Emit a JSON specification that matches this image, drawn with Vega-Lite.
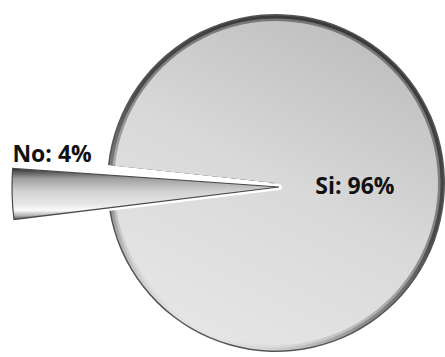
{
  "$schema": "https://vega.github.io/schema/vega-lite/v6.json",
  "width": 338,
  "height": 338,
  "autosize": {"type": "none"},
  "padding": {"left": 107, "top": 14, "right": 0, "bottom": 5},
  "background": "white",
  "config": {"view": {"stroke": null}},
  "data": {
    "values": [
      {"answer": "No", "share": 4, "label": "No: 4%"},
      {"answer": "Si", "share": 96, "label": "Si: 96%"}
    ]
  },
  "encoding": {
    "theta": {"field": "share", "type": "quantitative", "stack": true, "scale": {"range": [4.5605, 10.8437]}},
    "order": {"field": "answer", "sort": "ascending"}
  },
  "layer": [
    {
      "mark": {"type": "arc", "radius": 169, "padAngle": 0.016, "fill": "#555555"},
      "encoding": {"opacity": {"condition": {"test": "datum.answer === 'Si'", "value": 1}, "value": 0}}
    },
    {
      "mark": {
        "type": "arc", "radius": 167.5, "padAngle": 0.016,
        "fill": {
          "gradient": "linear", "x1": 0.75, "y1": 0.001, "x2": 0.25, "y2": 1,
          "stops": [
            {"offset": 0, "color": "#383838"},
            {"offset": 0.45, "color": "#4a4a4a"},
            {"offset": 0.75, "color": "#929292"},
            {"offset": 1, "color": "#fafafa"}
          ]
        }
      },
      "encoding": {"opacity": {"condition": {"test": "datum.answer === 'Si'", "value": 1}, "value": 0}}
    },
    {
      "mark": {
        "type": "arc", "radius": 164.5, "padAngle": 0.016,
        "fill": {
          "gradient": "linear", "x1": 0.75, "y1": 0.001, "x2": 0.25, "y2": 1,
          "stops": [
            {"offset": 0, "color": "#737373"},
            {"offset": 0.45, "color": "#858585"},
            {"offset": 0.75, "color": "#bababa"},
            {"offset": 1, "color": "#f2f2f2"}
          ]
        }
      },
      "encoding": {"opacity": {"condition": {"test": "datum.answer === 'Si'", "value": 1}, "value": 0}}
    },
    {
      "mark": {
        "type": "arc", "radius": 162, "padAngle": 0.016,
        "fill": {
          "gradient": "linear", "x1": 0.25, "y1": 1, "x2": 0.75, "y2": 0.001,
          "stops": [
            {"offset": 0, "color": "#e6e6e6"},
            {"offset": 0.5, "color": "#d9d9d9"},
            {"offset": 1, "color": "#bdbdbd"}
          ]
        }
      },
      "encoding": {"opacity": {"condition": {"test": "datum.answer === 'Si'", "value": 1}, "value": 0}}
    },
    {
      "mark": {"type": "arc", "radius": 267, "padAngle": 0.06, "xOffset": 3, "yOffset": 4, "fill": "white", "stroke": "white", "strokeWidth": 6, "strokeJoin": "round"},
      "encoding": {"opacity": {"condition": {"test": "datum.answer === 'No'", "value": 1}, "value": 0}}
    },
    {
      "mark": {
        "type": "arc", "radius": 267, "padAngle": 0.06, "xOffset": 3, "yOffset": 4,
        "fill": {
          "gradient": "linear", "x1": 0.5, "y1": 0.001, "x2": 0.5, "y2": 1,
          "stops": [
            {"offset": 0, "color": "#2e2e2e"},
            {"offset": 0.07, "color": "#5a5a5a"},
            {"offset": 0.2, "color": "#a0a0a0"},
            {"offset": 0.45, "color": "#d2d2d2"},
            {"offset": 0.7, "color": "#e6e6e6"},
            {"offset": 0.82, "color": "#fbfbfb"},
            {"offset": 0.92, "color": "#b5b5b5"},
            {"offset": 1, "color": "#5a5a5a"}
          ]
        },
        "stroke": "#4a4a4a",
        "strokeWidth": 1.2
      },
      "encoding": {"opacity": {"condition": {"test": "datum.answer === 'No'", "value": 1}, "value": 0}}
    },
    {
      "mark": {"type": "text", "radius": 79, "dy": 6, "font": "Open Sans", "fontWeight": "bold", "fontSize": 23, "fill": "#111111"},
      "encoding": {"text": {"condition": {"test": "datum.answer === 'Si'", "field": "label"}, "value": ""}}
    },
    {
      "mark": {"type": "text", "radius": 224, "dy": -34, "font": "Open Sans", "fontWeight": "bold", "fontSize": 23, "fill": "#111111"},
      "encoding": {"text": {"condition": {"test": "datum.answer === 'No'", "field": "label"}, "value": ""}}
    }
  ]
}
